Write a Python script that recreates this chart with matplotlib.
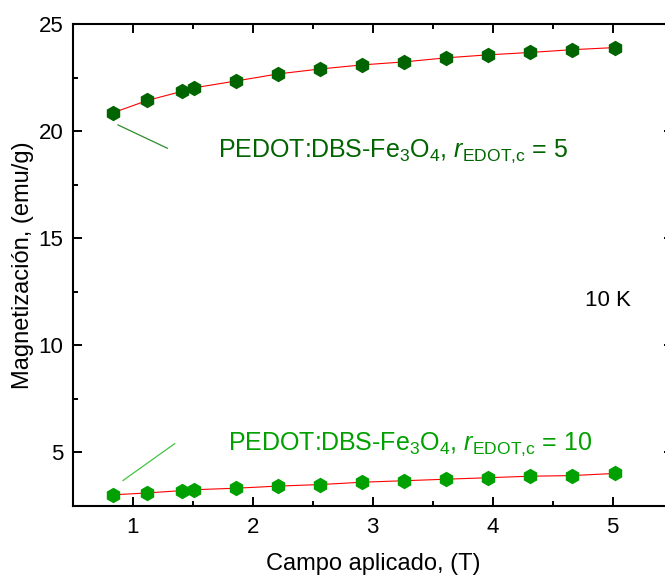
import matplotlib
matplotlib.use("Agg")
import matplotlib.pyplot as plt
from matplotlib.ticker import MultipleLocator

plt.rcParams['font.family'] = ['Liberation Sans', 'DejaVu Sans']
plt.rcParams['mathtext.fontset'] = 'custom'
plt.rcParams['mathtext.rm'] = 'Liberation Sans'
plt.rcParams['mathtext.it'] = 'Liberation Sans:italic'

# Applied field (T)
field = [0.83, 1.12, 1.41, 1.51, 1.86, 2.21, 2.56, 2.91, 3.26, 3.61, 3.96, 4.31, 4.66, 5.02]
# Magnetization (emu/g)
mag_r5 = [20.85, 21.43, 21.86, 22.02, 22.34, 22.67, 22.90, 23.09, 23.23, 23.42, 23.56, 23.67, 23.80, 23.90]
mag_r10 = [3.02, 3.11, 3.22, 3.26, 3.33, 3.43, 3.50, 3.61, 3.68, 3.75, 3.82, 3.89, 3.92, 4.02]

label_r5 = r'PEDOT:DBS-Fe$_3$O$_4$, $r_{\mathrm{EDOT}{,}\mathrm{c}}$ = 5'
label_r10 = r'PEDOT:DBS-Fe$_3$O$_4$, $r_{\mathrm{EDOT}{,}\mathrm{c}}$ = 10'

c_dark = '#006400'
c_light = '#00A000'

fig = plt.figure(figsize=(6.65, 5.76), dpi=100)
ax = fig.add_axes([73/665, 70/576, (672.5-73)/665, (506-24)/576])

ax.plot(field, mag_r5, color='red', lw=0.8, zorder=2)
ax.plot(field, mag_r10, color='red', lw=0.8, zorder=2)
ax.plot(field, mag_r5, ls='none', marker='h', ms=10, color=c_dark, mec=c_dark, zorder=3)
ax.plot(field, mag_r10, ls='none', marker='h', ms=10, color=c_light, mec=c_light, zorder=3)

# pointer lines to the labels
ax.plot([0.875, 1.287], [20.29, 19.2], color='#2e8b2e', lw=0.9)
ax.plot([0.917, 1.348], [3.69, 5.41], color='#44c444', lw=0.9)

ax.text(1.71, 19.05, label_r5, color=c_dark, fontsize=18, va='center', ha='left')
ax.text(1.79, 5.4, label_r10, color=c_light, fontsize=18, va='center', ha='left')
ax.text(4.96, 12.1, '10 K', color='black', fontsize=16, va='center', ha='center')

ax.set_xlim(0.5, 5.5)
ax.set_ylim(2.5, 25)
ax.xaxis.set_major_locator(MultipleLocator(1))
ax.xaxis.set_minor_locator(MultipleLocator(0.5))
ax.yaxis.set_major_locator(MultipleLocator(5))
ax.yaxis.set_minor_locator(MultipleLocator(2.5))

ax.tick_params(which='both', direction='in', top=True, right=True, width=1.4, labelsize=16)
ax.tick_params(which='major', length=6.5)
ax.tick_params(which='minor', length=3.5)
ax.tick_params(axis='x', which='major', pad=8)
ax.tick_params(axis='y', which='major', pad=7)
for s in ax.spines.values():
    s.set_linewidth(1.5)

ax.set_xlabel('Campo aplicado, (T)', fontsize=17, labelpad=11)
ax.set_ylabel('Magnetización, (emu/g)', fontsize=17, labelpad=3)

fig.savefig('out.png', dpi=100)
